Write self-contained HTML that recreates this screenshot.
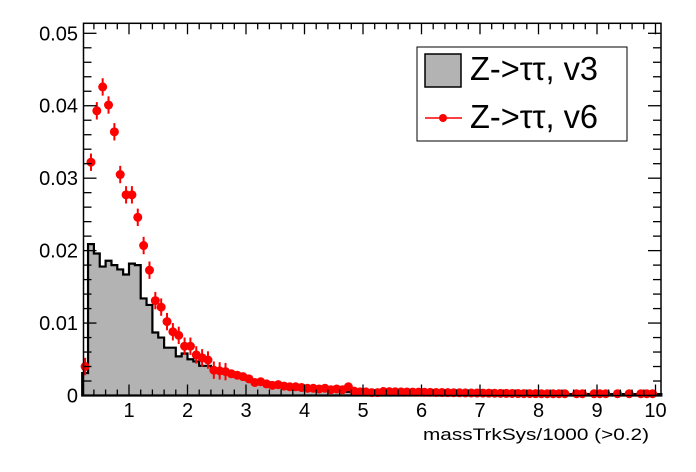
<!DOCTYPE html>
<html><head><meta charset="utf-8"><style>
html,body{margin:0;padding:0;background:#fff;}
svg{display:block;font-family:"Liberation Sans",Arial,sans-serif;}
</style></head><body>
<svg id="s" width="696" height="472" viewBox="0 0 696 472" xmlns="http://www.w3.org/2000/svg">
<rect width="696" height="472" fill="#fff"/>
<g id="hist"></g>
<g id="pts"></g>
<g id="axes"></g>
<g id="txt" font-size="20" fill="#000"></g>
<text x="649" y="440" font-size="17" text-anchor="end" textLength="226" lengthAdjust="spacingAndGlyphs">massTrkSys/1000 (&gt;0.2)</text>
<rect x="417" y="47" width="210" height="94" fill="#fff" stroke="#000" stroke-width="1"/>
<rect x="425" y="54" width="36" height="33" fill="#b3b3b3" stroke="#000" stroke-width="1.5"/>
<text x="470" y="80" font-size="33" textLength="128" lengthAdjust="spacingAndGlyphs">Z-&gt;ττ, v3</text>
<line x1="425" y1="118" x2="462" y2="118" stroke="#f00" stroke-width="1.5"/>
<circle cx="443" cy="118" r="4" fill="#f00"/>
<text x="470" y="128" font-size="33" textLength="128" lengthAdjust="spacingAndGlyphs">Z-&gt;ττ, v6</text>
</svg>
<script>
const NS="http://www.w3.org/2000/svg";
const X=x=>480+(x-7)*58.5, Y=y=>395.5-y*7244;
function el(p,t,a){const e=document.createElementNS(NS,t);for(const k in a)e.setAttribute(k,a[k]);document.getElementById(p).appendChild(e);return e;}
let h=[0.0031,0.0209,0.0196,0.0178,0.0186,0.018,0.0174,0.0167,0.0182,0.018,0.0134,0.0125,0.0087,0.0080,0.0066,0.0066,0.0054,0.0058,0.0050,0.0047,0.0041,0.0041,0.0035,0.0033,0.0031,0.0029,0.0027,0.0025,0.0023,0.0020];
let r=[0.0040,0.0322,0.0393,0.0426,0.0401,0.0364,0.0305,0.0277,0.0277,0.0246,0.0207,0.0173,0.0131,0.0122,0.0102,0.0088,0.0083,0.0068,0.0068,0.0056,0.0052,0.0049,0.0035,0.0034,0.0033,0.0030,0.0028,0.0026,0.0023,0.0018,0.0019];
while(h.length<99){let x=0.2+h.length*0.1;h.push(Math.max(0.0002,0.0022*Math.exp(-(x-3.1)*0.9)));}
const rtail=[0.0016,0.0014,0.0015,0.0013,0.0012,0.0012,0.0011,0.0010,0.0010,0.0009,0.0010,0.0008,0.0009,0.0008,0.0012,0.0006,0.0005,0.0005,0.0004,0.0004];
r=r.concat(rtail);
while(r.length<99){let x=0.2+r.length*0.1;r.push(Math.max(0.00025,0.0006*Math.exp(-(x-5)*0.3)));}
const skip=new Set([83,90,92,98,86,94]);
let d="M"+X(0.2)+","+Y(0);
for(let i=0;i<99;i++){let x0=0.2+i*0.1;d+=" L"+X(x0)+","+Y(h[i])+" L"+X(x0+0.1)+","+Y(h[i]);}
d+=" L"+X(10.1)+","+Y(0)+" Z";
el("hist","path",{d:d,fill:"#b3b3b3",stroke:"#000","stroke-width":2.2});
for(let i=0;i<99;i++){if(i>=77&&skip.has(i))continue;let x=X(0.25+i*0.1),y=Y(r[i]);let e=r[i]>0.003?0.0012:0.0002;
el("pts","line",{x1:x,x2:x,y1:Y(r[i]+e),y2:Y(r[i]-e),stroke:"#f00","stroke-width":2});
el("pts","circle",{cx:x,cy:y,r:4.5,fill:"#f00"});}
el("axes","rect",{x:83.5,y:23.3,width:577.5,height:372.2,fill:"none",stroke:"#000","stroke-width":1.5});
for(let v=0;v<=0.0517;v+=0.002){let y=Y(v),maj=Math.abs(v/0.01-Math.round(v/0.01))<1e-6,l=maj?13:8;
el("axes","line",{x1:83.5,x2:83.5+l,y1:y,y2:y,stroke:"#000","stroke-width":1.3});
el("axes","line",{x1:661,x2:661-l,y1:y,y2:y,stroke:"#000","stroke-width":1.3});
if(maj){let t=el("txt","text",{x:78,y:y+7,"text-anchor":"end"});t.textContent=v<1e-9?"0":v.toFixed(2);}}
for(let k=2;k<=50;k++){let v=k*0.2;if(v>10.1)break;let x=X(v),maj=k%5==0,l=maj?11:6;
el("axes","line",{x1:x,x2:x,y1:395.5,y2:395.5-l,stroke:"#000","stroke-width":1.3});
el("axes","line",{x1:x,x2:x,y1:23.3,y2:23.3+l,stroke:"#000","stroke-width":1.3});
if(maj){let t=el("txt","text",{x:x,y:417,"text-anchor":"middle"});t.textContent=String(Math.round(v));}}
</script>
</body></html>
